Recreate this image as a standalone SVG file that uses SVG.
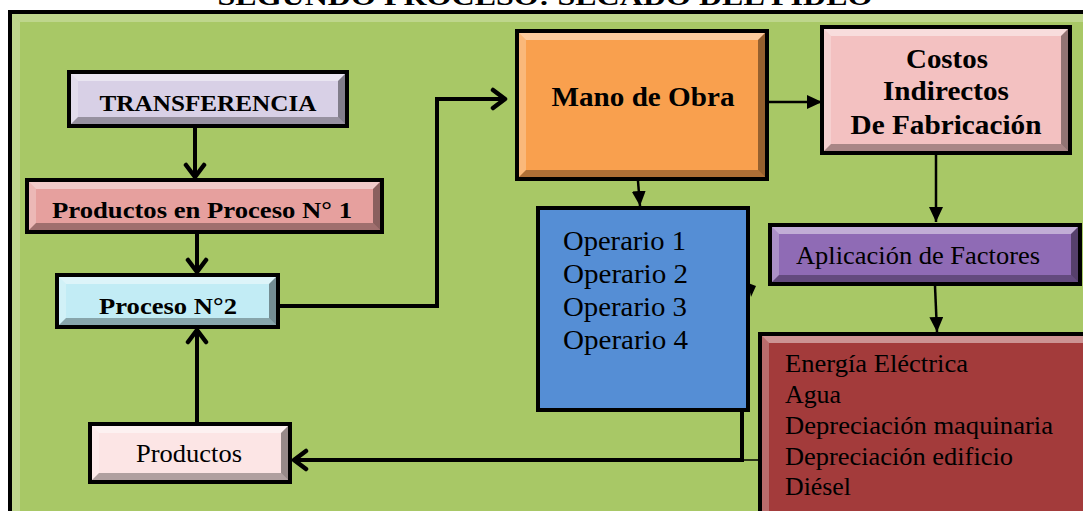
<svg xmlns="http://www.w3.org/2000/svg" width="1083" height="511" viewBox="0 0 1083 511">
<style>
.b{stroke:#000;stroke-width:4}
.hl{fill:#fff;opacity:.45}
.hl2{fill:#fff;opacity:.25}
.sh{fill:#000;opacity:.3}
.sh2{fill:#000;opacity:.4}
.tb{font-family:"Liberation Serif","Times New Roman",serif;font-weight:bold;fill:#000}
.tr{font-family:"Liberation Serif","Times New Roman",serif;fill:#000}
.c4{stroke:#000;stroke-width:4;fill:none}
.c2{stroke:#000;stroke-width:2.5;fill:none}
</style>
<defs>
<marker id="ov" markerUnits="userSpaceOnUse" markerWidth="24" markerHeight="24" viewBox="0 0 24 24" refX="16" refY="12" orient="auto">
<path d="M4,3 L16,12 L4,21" fill="none" stroke="#000" stroke-width="4.5" stroke-linecap="round" stroke-linejoin="round"/>
</marker>
<marker id="fa" markerUnits="userSpaceOnUse" markerWidth="16" markerHeight="14" viewBox="0 0 16 14" refX="15" refY="7" orient="auto">
<path d="M0,0 L15,7 L0,14 z" fill="#000"/>
</marker>
</defs>

<text class="tb" x="545" y="5" text-anchor="middle" font-size="26" textLength="655" lengthAdjust="spacingAndGlyphs">SEGUNDO PROCESO: SECADO DEL FIDEO</text>

<g id="frame">
<rect x="10" y="12" width="1090" height="510" fill="#A8C866" class="b"/>
<polygon class="hl2" points="12,14 1098,14 1090,22 20,22"/>
<polygon class="hl2" points="12,14 20,22 20,511 12,511"/>
</g>

<g id="connectors">
<line class="c4" x1="195" y1="128" x2="195" y2="177" marker-end="url(#ov)"/>
<line class="c4" x1="197" y1="234" x2="197" y2="272" marker-end="url(#ov)"/>
<line class="c4" x1="197" y1="422" x2="197" y2="330" marker-end="url(#ov)"/>
<polyline class="c4" points="280,306 437,306 437,99 505,99" marker-end="url(#ov)"/>
<polyline class="c4" points="742,410 742,460 294,460" marker-end="url(#ov)"/>
<line stroke="#000" stroke-width="1.5" x1="742" y1="460" x2="760" y2="460"/>
<line class="c2" x1="769" y1="102" x2="822" y2="102" marker-end="url(#fa)"/>
<line class="c2" x1="638" y1="181" x2="640" y2="206" marker-end="url(#fa)"/>
<line class="c2" x1="936" y1="155" x2="936" y2="222" marker-end="url(#fa)"/>
<line class="c2" x1="935" y1="286" x2="937" y2="332" marker-end="url(#fa)"/>
<polygon points="748,283 756,286 751,297" fill="#000"/>
</g>

<g id="transferencia">
<rect x="69" y="72" width="278" height="54" fill="#D8D0E6" class="b"/>
<polygon class="hl" points="71,74 345,74 338,81 78,81"/>
<polygon class="hl2" points="71,74 78,81 78,117 71,124"/>
<polygon class="sh" points="71,124 78,117 338,117 345,124"/>
<polygon class="sh2" points="345,74 338,81 338,117 345,124"/>
<text class="tb" x="208" y="111" text-anchor="middle" font-size="24" textLength="217" lengthAdjust="spacingAndGlyphs">TRANSFERENCIA</text>
</g>

<g id="pp1">
<rect x="27" y="180" width="355" height="52" fill="#E6A09E" class="b"/>
<polygon class="hl" points="29,182 380,182 373,189 36,189"/>
<polygon class="hl2" points="29,182 36,189 36,223 29,230"/>
<polygon class="sh" points="29,230 36,223 373,223 380,230"/>
<polygon class="sh2" points="380,182 373,189 373,223 380,230"/>
<text class="tb" x="202" y="218" text-anchor="middle" font-size="24" textLength="300" lengthAdjust="spacingAndGlyphs">Productos en Proceso N° 1</text>
</g>

<g id="proceso2">
<rect x="57" y="275" width="221" height="52" fill="#C2ECF5" class="b"/>
<polygon class="hl" points="59,277 276,277 269,284 66,284"/>
<polygon class="hl2" points="59,277 66,284 66,318 59,325"/>
<polygon class="sh" points="59,325 66,318 269,318 276,325"/>
<polygon class="sh2" points="276,277 269,284 269,318 276,325"/>
<text class="tb" x="168" y="314" text-anchor="middle" font-size="24" textLength="138" lengthAdjust="spacingAndGlyphs">Proceso N°2</text>
</g>

<g id="manodeobra">
<rect x="517" y="31" width="250" height="148" fill="#F9A04E" class="b"/>
<polygon class="hl" points="519,33 765,33 758,40 526,40"/>
<polygon class="hl2" points="519,33 526,40 526,170 519,177"/>
<polygon class="sh" points="519,177 526,170 758,170 765,177"/>
<polygon class="sh2" points="765,33 758,40 758,170 765,177"/>
<text class="tb" x="643" y="106" text-anchor="middle" font-size="27" textLength="183" lengthAdjust="spacingAndGlyphs">Mano de Obra</text>
</g>

<g id="costos">
<rect x="822" y="27" width="248" height="126" fill="#F3C1C1" class="b"/>
<polygon class="hl" points="824,29 1068,29 1061,36 831,36"/>
<polygon class="hl2" points="824,29 831,36 831,144 824,151"/>
<polygon class="sh" points="824,151 831,144 1061,144 1068,151"/>
<polygon class="sh2" points="1068,29 1061,36 1061,144 1068,151"/>
<text class="tb" x="947" y="68" text-anchor="middle" font-size="27" textLength="82" lengthAdjust="spacingAndGlyphs">Costos</text>
<text class="tb" x="946" y="100" text-anchor="middle" font-size="27" textLength="126" lengthAdjust="spacingAndGlyphs">Indirectos</text>
<text class="tb" x="946" y="134" text-anchor="middle" font-size="27" textLength="191" lengthAdjust="spacingAndGlyphs">De Fabricación</text>
</g>

<g id="operarios">
<rect x="538" y="208" width="210" height="202" fill="#558ED5" class="b"/>
<text class="tr" x="563" y="250" font-size="27" textLength="123" lengthAdjust="spacingAndGlyphs">Operario 1</text>
<text class="tr" x="563" y="283" font-size="27" textLength="125" lengthAdjust="spacingAndGlyphs">Operario 2</text>
<text class="tr" x="563" y="316" font-size="27" textLength="124" lengthAdjust="spacingAndGlyphs">Operario 3</text>
<text class="tr" x="563" y="349" font-size="27" textLength="125" lengthAdjust="spacingAndGlyphs">Operario 4</text>
</g>

<g id="aplicacion">
<rect x="770" y="225" width="310" height="59" fill="#8F6BB5" class="b"/>
<polygon class="hl" points="772,227 1078,227 1071,234 779,234"/>
<polygon class="hl2" points="772,227 779,234 779,275 772,282"/>
<polygon class="sh" points="772,282 779,275 1071,275 1078,282"/>
<polygon class="sh2" points="1078,227 1071,234 1071,275 1078,282"/>
<text class="tr" x="796" y="264" font-size="25" textLength="244" lengthAdjust="spacingAndGlyphs">Aplicación de Factores</text>
</g>

<g id="energia">
<rect x="760" y="334" width="340" height="190" fill="#A33B3B" class="b"/>
<polygon class="hl" points="762,336 1098,336 1091,343 769,343"/>
<polygon class="hl2" points="762,336 769,343 769,511 762,511"/>
<text class="tr" x="785" y="372" font-size="25" textLength="183" lengthAdjust="spacingAndGlyphs">Energía Eléctrica</text>
<text class="tr" x="785" y="403" font-size="25" textLength="56" lengthAdjust="spacingAndGlyphs">Agua</text>
<text class="tr" x="785" y="434" font-size="25" textLength="268" lengthAdjust="spacingAndGlyphs">Depreciación maquinaria</text>
<text class="tr" x="785" y="465" font-size="25" textLength="228" lengthAdjust="spacingAndGlyphs">Depreciación edificio</text>
<text class="tr" x="785" y="495" font-size="25" textLength="66" lengthAdjust="spacingAndGlyphs">Diésel</text>
</g>

<g id="productos">
<rect x="90" y="424" width="200" height="58" fill="#FCE5E5" class="b"/>
<polygon class="hl" points="92,426 288,426 281,433 99,433"/>
<polygon class="hl2" points="92,426 99,433 99,473 92,480"/>
<polygon class="sh" points="92,480 99,473 281,473 288,480"/>
<polygon class="sh2" points="288,426 281,433 281,473 288,480"/>
<text class="tr" x="189" y="462" text-anchor="middle" font-size="25" textLength="106" lengthAdjust="spacingAndGlyphs">Productos</text>
</g>
</svg>
